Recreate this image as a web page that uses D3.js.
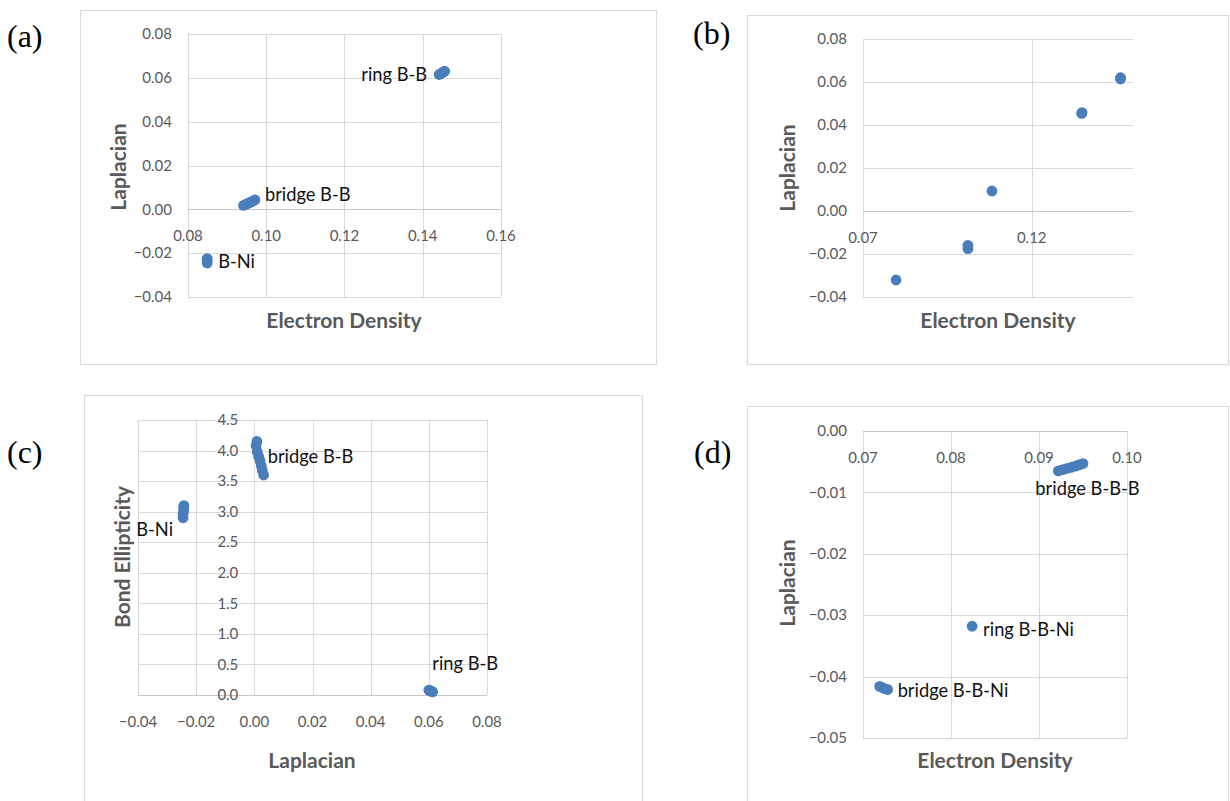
<!DOCTYPE html>
<html>
<head>
<meta charset="utf-8">
<script src="https://cdn.jsdelivr.net/npm/d3@7"></script>
<style>
	body { margin: 0; background: #fff; }
	svg { display: block; }
	.tick-label { font-family: Lato, 'Liberation Sans', sans-serif; font-size: 15px; fill: #595959; }
	.axis-title { font-family: Lato, 'Liberation Sans', sans-serif; font-size: 21px; font-weight: bold; fill: #595959; }
	.point-label { font-family: Lato, 'Liberation Sans', sans-serif; font-size: 18.3px; fill: #111; }
	.panel-tag { font-family: 'Liberation Serif', 'DejaVu Serif', serif; font-size: 32px; fill: #000; }
</style>
</head>
<body>
<svg id="chart" width="1230" height="801"></svg>
<script>
// (a) Laplacian vs electron density
const aXTicks = [ 0.08, 0.10, 0.12, 0.14, 0.16 ];
const aYTicks = [ -0.04, -0.02, 0.00, 0.02, 0.04, 0.06, 0.08 ];
const aRingBB = [ [ 0.1442, 0.0615 ], [ 0.1446, 0.0619 ], [ 0.1450, 0.0623 ], [ 0.1453, 0.0627 ], [ 0.1456, 0.0630 ] ];
const aBridgeBB = [ [ 0.0942, 0.0018 ], [ 0.0947, 0.0022 ], [ 0.0952, 0.0026 ], [ 0.0957, 0.0030 ], [ 0.0962, 0.0034 ], [ 0.0967, 0.0039 ], [ 0.0971, 0.0043 ] ];
const aBNi = [ [ 0.0849, -0.0225 ], [ 0.0849, -0.0235 ], [ 0.0849, -0.0245 ] ];

// (b) Laplacian vs electron density
const bXTicks = [ 0.07, 0.12 ];
const bYTicks = [ -0.04, -0.02, 0.00, 0.02, 0.04, 0.06, 0.08 ];
const bPoints = [ [ 0.0798, -0.0321 ], [ 0.1011, -0.0160 ], [ 0.1011, -0.0175 ], [ 0.1082, 0.0093 ], [ 0.1348, 0.0454 ], [ 0.1349, 0.0458 ], [ 0.1463, 0.0614 ], [ 0.1463, 0.0620 ] ];

// (c) bond ellipticity vs Laplacian
const cXTicks = [ -0.04, -0.02, 0.00, 0.02, 0.04, 0.06, 0.08 ];
const cYTicks = [ 0.0, 0.5, 1.0, 1.5, 2.0, 2.5, 3.0, 3.5, 4.0, 4.5 ];
const cBridgeBB = [ [ 0.0009, 4.15 ], [ 0.0006, 4.08 ], [ 0.0010, 3.98 ], [ 0.0015, 3.90 ], [ 0.0020, 3.83 ], [ 0.0024, 3.75 ], [ 0.0027, 3.68 ], [ 0.0032, 3.60 ] ];
const cBNi = [ [ -0.0245, 2.90 ], [ -0.0245, 2.96 ], [ -0.0243, 3.01 ], [ -0.0243, 3.06 ], [ -0.0242, 3.10 ] ];
const cRingBB = [ [ 0.0600, 0.08 ], [ 0.0605, 0.07 ], [ 0.0610, 0.06 ], [ 0.0613, 0.05 ] ];

// (d) Laplacian vs electron density
const dXTicks = [ 0.07, 0.08, 0.09, 0.10 ];
const dYTicks = [ -0.05, -0.04, -0.03, -0.02, -0.01, 0.00 ];
const dBridgeBBB = [ [ 0.0922, -0.0065 ], [ 0.0927, -0.0063 ], [ 0.0932, -0.0061 ], [ 0.0937, -0.0059 ], [ 0.0942, -0.0057 ], [ 0.0946, -0.0055 ], [ 0.0950, -0.0053 ] ];
const dRingBBNi = [ [ 0.0824, -0.0318 ] ];
const dBridgeBBNi = [ [ 0.0719, -0.0416 ], [ 0.0722, -0.0418 ], [ 0.0725, -0.0420 ], [ 0.0728, -0.0421 ] ];

const COLOR = '#4a7ebb';
const GRID = '#d9d9d9';
const svg = d3.select( '#chart' );

/**
 * Draw one Excel-style scatter panel
 *
 * @param {Object} p - panel layout and data
 */
function drawPanel( p ) {
	const g = svg.append( 'g' );
	const x = d3.scaleLinear().domain( p.xDomain ).range( [ p.plot.left, p.plot.right ] );
	const y = d3.scaleLinear().domain( p.yDomain ).range( [ p.plot.bottom, p.plot.top ] );

	// outer chart frame
	g.append( 'rect' )
		.attr( 'x', p.frame[ 0 ] + 0.5 )
		.attr( 'y', p.frame[ 1 ] + 0.5 )
		.attr( 'width', p.frame[ 2 ] - p.frame[ 0 ] )
		.attr( 'height', p.frame[ 3 ] - p.frame[ 1 ] )
		.attr( 'fill', 'none' )
		.attr( 'stroke', GRID );

	// gridlines
	g.selectAll( 'line.hgrid' )
		.data( p.yTicks )
		.enter()
		.append( 'line' )
		.attr( 'x1', p.plot.left )
		.attr( 'x2', p.plot.right )
		.attr( 'y1', ( d ) => Math.round( y( d ) ) + 0.5 )
		.attr( 'y2', ( d ) => Math.round( y( d ) ) + 0.5 )
		.attr( 'stroke', GRID );

	g.selectAll( 'line.vgrid' )
		.data( p.xTicks )
		.enter()
		.append( 'line' )
		.attr( 'x1', ( d ) => Math.round( x( d ) ) + 0.5 )
		.attr( 'x2', ( d ) => Math.round( x( d ) ) + 0.5 )
		.attr( 'y1', p.plot.top )
		.attr( 'y2', p.plot.bottom )
		.attr( 'stroke', GRID );

	// horizontal axis line
	const axisY = Math.round( y( p.xAxisAt ) ) + 0.5;
	g.append( 'line' )
		.attr( 'x1', p.plot.left )
		.attr( 'x2', p.plot.right )
		.attr( 'y1', axisY )
		.attr( 'y2', axisY )
		.attr( 'stroke', '#c6c6c6' );

	// tick labels
	const yLabelX = x( p.yAxisAt ) - 16;
	g.selectAll( 'text.ytick' )
		.data( p.yTicks )
		.enter()
		.append( 'text' )
		.attr( 'class', 'tick-label' )
		.attr( 'x', yLabelX )
		.attr( 'y', ( d ) => y( d ) )
		.attr( 'dy', '0.35em' )
		.attr( 'text-anchor', 'end' )
		.text( ( d ) => d3.format( p.yFormat )( d ) );

	g.selectAll( 'text.xtick' )
		.data( p.xTicks )
		.enter()
		.append( 'text' )
		.attr( 'class', 'tick-label' )
		.attr( 'x', ( d ) => x( d ) )
		.attr( 'y', axisY + 26 )
		.attr( 'dy', '0.35em' )
		.attr( 'text-anchor', 'middle' )
		.text( ( d ) => d3.format( p.xFormat )( d ) );

	// axis titles
	g.append( 'text' )
		.attr( 'class', 'axis-title' )
		.attr( 'x', p.xTitle[ 1 ] )
		.attr( 'y', p.xTitle[ 2 ] )
		.attr( 'dy', '0.35em' )
		.attr( 'text-anchor', 'middle' )
		.text( p.xTitle[ 0 ] );

	g.append( 'text' )
		.attr( 'class', 'axis-title' )
		.attr( 'transform', `translate(${ p.yTitle[ 1 ] }, ${ p.yTitle[ 2 ] }) rotate(-90)` )
		.attr( 'dy', '0.35em' )
		.attr( 'text-anchor', 'middle' )
		.text( p.yTitle[ 0 ] );

	// points
	p.series.forEach( ( s ) => {
		g.selectAll( null )
			.data( s.points )
			.enter()
			.append( 'circle' )
			.attr( 'cx', ( d ) => x( d[ 0 ] ) )
			.attr( 'cy', ( d ) => y( d[ 1 ] ) )
			.attr( 'r', 5.4 )
			.attr( 'fill', COLOR );

		if ( s.label ) {
			const a = s.points[ s.at ];
			g.append( 'text' )
				.attr( 'class', 'point-label' )
				.attr( 'x', x( a[ 0 ] ) + s.dx )
				.attr( 'y', y( a[ 1 ] ) + s.dy )
				.attr( 'dy', '0.35em' )
				.attr( 'text-anchor', s.anchor || 'start' )
				.text( s.label );
		}
	} );

	// panel tag
	g.append( 'text' )
		.attr( 'class', 'panel-tag' )
		.attr( 'x', p.tag[ 1 ] )
		.attr( 'y', p.tag[ 2 ] )
		.attr( 'dy', '0.35em' )
		.text( p.tag[ 0 ] );
}

drawPanel( {
	tag: [ '(a)', 7, 36 ],
	frame: [ 80, 10, 656, 364 ],
	plot: { left: 188, right: 501, top: 34, bottom: 297 },
	xDomain: [ 0.08, 0.16 ],
	yDomain: [ -0.04, 0.08 ],
	xTicks: aXTicks,
	yTicks: aYTicks,
	xFormat: '.2f',
	yFormat: '.2f',
	xAxisAt: 0,
	yAxisAt: 0.08,
	xTitle: [ 'Electron Density', 344, 321 ],
	yTitle: [ 'Laplacian', 119, 167 ],
	series: [
		{ points: aRingBB, label: 'ring B-B', at: 0, dx: -12, dy: 0, anchor: 'end' },
		{ points: aBridgeBB, label: 'bridge B-B', at: 6, dx: 10, dy: -5 },
		{ points: aBNi, label: 'B-Ni', at: 1, dx: 11, dy: 1 },
	],
} );

drawPanel( {
	tag: [ '(b)', 693, 33 ],
	frame: [ 747, 15, 1228, 364 ],
	plot: { left: 863, right: 1133, top: 39, bottom: 297 },
	xDomain: [ 0.07, 0.15 ],
	yDomain: [ -0.04, 0.08 ],
	xTicks: bXTicks,
	yTicks: bYTicks,
	xFormat: '.2f',
	yFormat: '.2f',
	xAxisAt: 0,
	yAxisAt: 0.07,
	xTitle: [ 'Electron Density', 998, 321 ],
	yTitle: [ 'Laplacian', 788, 168 ],
	series: [
		{ points: bPoints },
	],
} );

drawPanel( {
	tag: [ '(c)', 7, 452 ],
	frame: [ 84, 395, 642, 812 ],
	plot: { left: 138, right: 487, top: 420, bottom: 695 },
	xDomain: [ -0.04, 0.08 ],
	yDomain: [ 0, 4.5 ],
	xTicks: cXTicks,
	yTicks: cYTicks,
	xFormat: '.2f',
	yFormat: '.1f',
	xAxisAt: 0,
	yAxisAt: 0,
	xTitle: [ 'Laplacian', 312, 761 ],
	yTitle: [ 'Bond Ellipticity', 123, 557 ],
	series: [
		{ points: cBridgeBB, label: 'bridge B-B', at: 3, dx: 9, dy: 0 },
		{ points: cBNi, label: 'B-Ni', at: 0, dx: -10, dy: 12, anchor: 'end' },
		{ points: cRingBB, label: 'ring B-B', at: 1, dx: 2, dy: -27 },
	],
} );

drawPanel( {
	tag: [ '(d)', 694, 452 ],
	frame: [ 747, 406, 1228, 812 ],
	plot: { left: 863, right: 1127, top: 431, bottom: 738 },
	xDomain: [ 0.07, 0.10 ],
	yDomain: [ -0.05, 0 ],
	xTicks: dXTicks,
	yTicks: dYTicks,
	xFormat: '.2f',
	yFormat: '.2f',
	xAxisAt: 0,
	yAxisAt: 0.07,
	xTitle: [ 'Electron Density', 995, 761 ],
	yTitle: [ 'Laplacian', 788, 583 ],
	series: [
		{ points: dBridgeBBB, label: 'bridge B-B-B', at: 0, dx: -23, dy: 18 },
		{ points: dRingBBNi, label: 'ring B-B-Ni', at: 0, dx: 11, dy: 3 },
		{ points: dBridgeBBNi, label: 'bridge B-B-Ni', at: 3, dx: 10, dy: 1 },
	],
} );
</script>
</body>
</html>
